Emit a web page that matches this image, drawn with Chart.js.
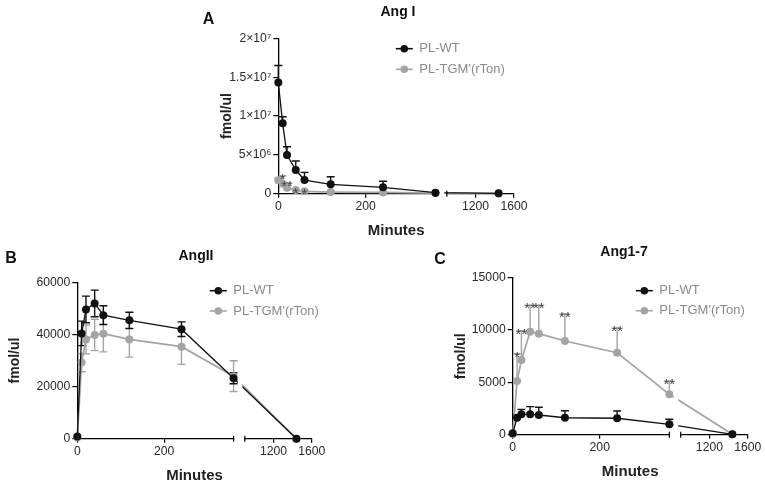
<!DOCTYPE html>
<html>
<head>
<meta charset="utf-8">
<script src="https://cdn.jsdelivr.net/npm/chart.js@4/dist/chart.umd.min.js"></script>
<style>
html,body{margin:0;padding:0;background:#fff;width:765px;height:487px;overflow:hidden}
canvas{position:absolute;left:0;top:0}
</style>
</head>
<body>
<canvas id="cA" width="765" height="487"></canvas>
<canvas id="cB" width="765" height="487"></canvas>
<canvas id="cC" width="765" height="487"></canvas>
<script>
// ---------- data ----------
const minutes = [0, 10, 20, 40, 60, 120, 240, 360, 1440];
const seriesNames = ["PL-WT", "PL-TGM'(rTon)"];
const xTickMinutes = [0, 200, 1200, 1600];

// Panel A: Ang I
const angI_WT      = [14.3e6, 9.06e6, 4.98e6, 3.05e6, 1.76e6, 1.21e6, 0.82e6, 0.13e6, 0.05e6];
const angI_WT_err  = [2.2e6, 0.85e6, 1.07e6, 1.16e6, 0.99e6, 0.98e6, 0.78e6, 0, 0];
const angI_TGM     = [1.72e6, 1.29e6, 0.77e6, 0.48e6, 0.30e6, 0.21e6, 0.17e6, 0.08e6, 0.03e6];
const angI_TGM_err = [0.3e6, 1.0e6, 0.65e6, 0.05e6, 0.1e6, 0.1e6, 0.1e6, 0.05e6, 0.02e6];
const angI_stars   = ["", "*", "**", "*", "*", "", "", "", ""];
const angI_yTicks  = [0, 5e6, 1e7, 1.5e7, 2e7];
const angI_yLabels = ["0", "5\u00d710\u2076", "1\u00d710\u2077", "1.5\u00d710\u2077", "2\u00d710\u2077"];

// Panel B: AngII
const angII_WT      = [800, 40400, 49600, 51900, 47400, 45400, 42000, 23200, 0];
const angII_WT_err  = [0, 4700, 5100, 5100, 3600, 3100, 2800, 2100, 0];
const angII_TGM     = [500, 29200, 38100, 39800, 40300, 38100, 35300, 24000, 0];
const angII_TGM_err = [0, 3500, 5500, 6000, 7000, 6800, 6800, 5900, 0];
const angII_stars   = ["", "", "", "", "", "", "", "", ""];
const angII_yTicks  = [0, 20000, 40000, 60000];
const angII_yLabels = ["0", "20000", "40000", "60000"];

// Panel C: Ang1-7
const ang17_WT      = [130, 1620, 1950, 1950, 1880, 1620, 1570, 990, 40];
const ang17_WT_err  = [0, 300, 470, 730, 740, 670, 690, 480, 0];
const ang17_TGM     = [60, 5130, 7130, 9840, 9650, 8950, 7830, 3860, 40];
const ang17_TGM_err = [0, 2600, 2800, 2520, 2700, 2580, 2360, 1240, 0];
const ang17_stars   = ["", "*", "**", "**", "**", "**", "**", "**", ""];
const ang17_yTicks  = [0, 5000, 10000, 15000];
const ang17_yLabels = ["0", "5000", "10000", "15000"];

// ---------- broken x-axis mapping ----------
const BREAK = { leftEnd: 360, rightStart: 900, gap: 26, ratio: 0.22 };
function toAxis(t) {
  if (t <= BREAK.leftEnd) return t;
  if (t >= BREAK.rightStart) return BREAK.leftEnd + BREAK.gap + (t - BREAK.rightStart) * BREAK.ratio;
  return BREAK.leftEnd + (t - BREAK.leftEnd) / (BREAK.rightStart - BREAK.leftEnd) * BREAK.gap;
}

const FONT = "'Liberation Sans', Arial, sans-serif";
const COLORS = ["#111111", "#a4a4a4"];
const Y_W = 60, X_H = 40;

function makeDecor(p) {
  return {
    id: 'decor' + p.letter,
    beforeDatasetsDraw(chart) {
      const ctx = chart.ctx, xs = chart.scales.x, ys = chart.scales.y;
      const area = chart.chartArea;
      const x1 = xs.getPixelForValue(toAxis(BREAK.leftEnd));
      const x2 = xs.getPixelForValue(toAxis(BREAK.rightStart));
      ctx.save();
      ctx.fillStyle = '#fff';
      ctx.fillRect(x1 + 0.7, area.bottom - 3, x2 - x1 - 1.4, 6);
      ctx.restore();
      ctx.save();
      ctx.lineWidth = 1.4;
      for (let k = p.values.length - 1; k >= 0; k--) {
        ctx.strokeStyle = COLORS[k];
        const vals = p.values[k], errs = p.errors[k];
        minutes.forEach((t, i) => {
          const e = errs[i];
          if (!e) return;
          const x = xs.getPixelForValue(toAxis(t));
          const yTop = ys.getPixelForValue(vals[i] + e);
          const yMid = ys.getPixelForValue(vals[i]);
          const yBot = p.lowerErr ? ys.getPixelForValue(vals[i] - e) : yMid;
          ctx.beginPath();
          ctx.moveTo(x, yBot); ctx.lineTo(x, yTop);
          ctx.moveTo(x - 4, yTop); ctx.lineTo(x + 4, yTop);
          if (p.lowerErr) { ctx.moveTo(x - 4, yBot); ctx.lineTo(x + 4, yBot); }
          ctx.stroke();
        });
      }
      ctx.restore();
    },
    afterDatasetsDraw(chart) {
      const ctx = chart.ctx, xs = chart.scales.x, ys = chart.scales.y;
      const area = chart.chartArea;
      const x1 = xs.getPixelForValue(toAxis(BREAK.leftEnd));
      const x2 = xs.getPixelForValue(toAxis(BREAK.rightStart));
      ctx.save();
      ctx.fillStyle = '#fff';
      ctx.fillRect(x1 + 4.3, area.top - 4, (x2 - 2.5) - (x1 + 4.3), area.bottom - area.top + 7);
      ctx.strokeStyle = '#000';
      ctx.lineWidth = 1.2;
      ctx.beginPath();
      ctx.moveTo(x1, area.bottom - 3); ctx.lineTo(x1, area.bottom + 3);
      ctx.moveTo(x2, area.bottom - 3); ctx.lineTo(x2, area.bottom + 3);
      ctx.stroke();
      ctx.fillStyle = '#444';
      ctx.font = '15px ' + FONT;
      ctx.textAlign = 'center';
      ctx.textBaseline = 'alphabetic';
      p.stars.forEach((s, i) => {
        if (!s) return;
        const x = xs.getPixelForValue(toAxis(minutes[i]));
        const y = ys.getPixelForValue(p.values[1][i] + p.errors[1][i]);
        ctx.fillText(s, x, y + 8);
      });
      chart.data.datasets.forEach((ds, k) => {
        const cy = p.legend.y + k * p.legend.dy, cx = p.legend.x;
        ctx.strokeStyle = COLORS[k];
        ctx.fillStyle = COLORS[k];
        ctx.lineWidth = 1.6;
        ctx.beginPath(); ctx.moveTo(cx - 8.5, cy); ctx.lineTo(cx + 8.5, cy); ctx.stroke();
        ctx.beginPath(); ctx.arc(cx, cy, 3.8, 0, Math.PI * 2); ctx.fill();
        ctx.fillStyle = '#8a8a8a';
        ctx.font = '13px ' + FONT;
        ctx.textAlign = 'left';
        ctx.textBaseline = 'middle';
        ctx.fillText(ds.label, cx + 15, cy);
      });
      ctx.restore();
    },
    afterDraw(chart) {
      const ctx = chart.ctx, area = chart.chartArea;
      ctx.save();
      ctx.fillStyle = '#111';
      ctx.textAlign = 'center';
      ctx.textBaseline = 'middle';
      ctx.font = 'bold 14px ' + FONT;
      ctx.fillText(p.title, p.titleX, area.top - 26);
      ctx.font = 'bold 16px ' + FONT;
      ctx.fillText(p.letter, p.letterX, p.letterY);
      ctx.fillStyle = '#222';
      ctx.font = 'bold 15px ' + FONT;
      ctx.fillText('Minutes', (area.left + area.right) / 2, area.bottom + 37.5);
      ctx.font = 'bold 14px ' + FONT;
      ctx.translate(p.yTitleX, (area.top + area.bottom) / 2);
      ctx.rotate(-Math.PI / 2);
      ctx.fillText('fmol/ul', 0, 0);
      ctx.restore();
    }
  };
}

function makeChart(id, p) {
  const ds = (k) => ({
    label: seriesNames[k],
    data: minutes.map((t, i) => ({ x: toAxis(t), y: p.values[k][i] })),
    borderColor: COLORS[k],
    backgroundColor: COLORS[k],
    pointBackgroundColor: COLORS[k],
    pointBorderColor: COLORS[k],
    pointBorderWidth: 0,
    pointRadius: 4,
    borderWidth: k === 0 ? 1.3 : 1.7,
    tension: 0,
    clip: false,
    fill: false
  });
  const tickFont = { family: FONT, size: 12.2 };
  return new Chart(document.getElementById(id), {
    type: 'line',
    data: { datasets: [ds(0), ds(1)] },
    options: {
      responsive: false,
      animation: false,
      events: [],
      layout: { padding: { left: p.box.l - Y_W, top: p.box.t, right: 765 - p.box.r, bottom: 487 - p.box.b - X_H } },
      plugins: { legend: { display: false }, title: { display: false }, tooltip: { enabled: false } },
      scales: {
        x: {
          type: 'linear', min: 0, max: toAxis(1600),
          afterFit: s => { s.height = X_H; },
          afterBuildTicks: s => { s.ticks = xTickMinutes.map(t => ({ value: toAxis(t) })); },
          ticks: { callback: (v, i) => String(xTickMinutes[i]), font: tickFont, color: '#2a2a2a', padding: 2, maxRotation: 0, autoSkip: false },
          grid: { display: true, drawOnChartArea: false, drawTicks: true, tickLength: 4, color: '#000', lineWidth: 1.2 },
          border: { display: true, color: '#000', width: 1.3 }
        },
        y: {
          type: 'linear', min: 0, max: p.yTicks[p.yTicks.length - 1],
          afterFit: s => { s.width = Y_W; },
          afterBuildTicks: s => { s.ticks = p.yTicks.map(v => ({ value: v })); },
          ticks: { callback: (v, i) => p.yLabels[i], font: tickFont, color: '#2a2a2a', padding: 2, autoSkip: false },
          grid: { display: true, drawOnChartArea: false, drawTicks: true, tickLength: 5, color: '#000', lineWidth: 1.2 },
          border: { display: true, color: '#000', width: 1.3 }
        }
      }
    },
    plugins: [makeDecor(p)]
  });
}

makeChart('cA', {
  letter: 'A', title: 'Ang I', box: { l: 278.3, t: 38.3, r: 514, b: 193.7 },
  yTicks: angI_yTicks, yLabels: angI_yLabels,
  values: [angI_WT, angI_TGM], errors: [angI_WT_err, angI_TGM_err], stars: angI_stars, lowerErr: false,
  legend: { x: 404.3, y: 48.7, dy: 20.6 }, titleX: 398, letterX: 208.5, letterY: 20, yTitleX: 226.7
});
makeChart('cB', {
  letter: 'B', title: 'AngII', box: { l: 77.3, t: 282.3, r: 311.7, b: 438.7 },
  yTicks: angII_yTicks, yLabels: angII_yLabels,
  values: [angII_WT, angII_TGM], errors: [angII_WT_err, angII_TGM_err], stars: angII_stars, lowerErr: true,
  legend: { x: 218.3, y: 290.7, dy: 20.3 }, titleX: 196, letterX: 11, letterY: 259, yTitleX: 15.5
});
makeChart('cC', {
  letter: 'C', title: 'Ang1-7', box: { l: 512.7, t: 277.7, r: 747.7, b: 434.7 },
  yTicks: ang17_yTicks, yLabels: ang17_yLabels,
  values: [ang17_WT, ang17_TGM], errors: [ang17_WT_err, ang17_TGM_err], stars: ang17_stars, lowerErr: false,
  legend: { x: 644.3, y: 290.7, dy: 20 }, titleX: 624, letterX: 440, letterY: 260, yTitleX: 461
});
</script>
</body>
</html>
